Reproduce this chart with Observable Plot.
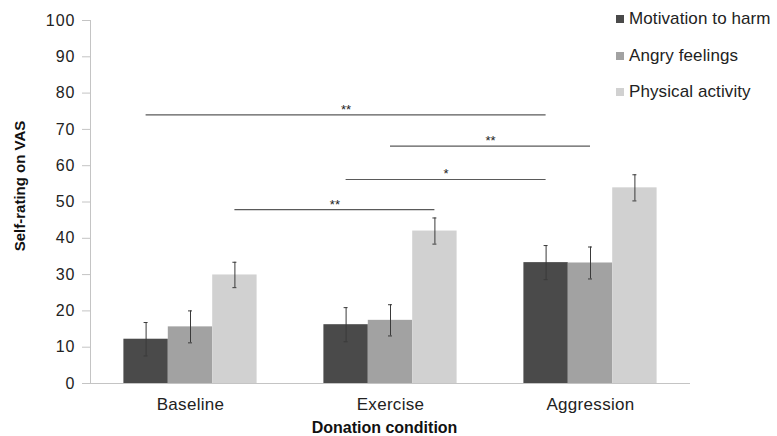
<!DOCTYPE html>
<html><head><meta charset="utf-8">
<script src="https://cdn.jsdelivr.net/npm/d3@7"></script>
<script src="https://cdn.jsdelivr.net/npm/@observablehq/plot@0.6"></script>
<style>
body{margin:0;background:#fff;}
#wrap{position:relative;width:777px;height:436px;font-family:"Liberation Sans",Arial,sans-serif;}
.item{position:absolute;left:616px;white-space:nowrap;display:flex;align-items:center;font-size:17px;letter-spacing:0.1px;color:#222;height:20px;line-height:20px;}
.sw{width:8px;height:8px;margin-right:5px;flex:none;}
svg g[aria-label="y-axis tick"] path{stroke:#c4c4c4;}
svg g[aria-label="y-axis tick label"]{letter-spacing:1px;}
svg g[aria-label="x-axis tick label"]{letter-spacing:0.3px;}
</style></head>
<body><div id="wrap"></div>
<script>
const conditions = ["Baseline", "Exercise", "Aggression"];
const series = ["Motivation to harm", "Angry feelings", "Physical activity"];
const colors = ["#4a4a4a", "#a2a2a2", "#d1d1d1"];
const motivation = [12.2, 16.2, 33.3];
const angry = [15.6, 17.4, 33.2];
const physical = [29.9, 42.0, 53.9];
const motivationErr = [4.6, 4.7, 4.7];
const angryErr = [4.4, 4.3, 4.4];
const physicalErr = [3.5, 3.6, 3.6];
const yTicks = [0, 10, 20, 30, 40, 50, 60, 70, 80, 90, 100];

// significance brackets: from (condition, series) to (condition, series)
const sigFromCond = ["Baseline", "Exercise", "Exercise", "Baseline"];
const sigFromSeries = ["Motivation to harm", "Angry feelings", "Motivation to harm", "Physical activity"];
const sigToCond = ["Aggression", "Aggression", "Aggression", "Exercise"];
const sigToSeries = ["Motivation to harm", "Angry feelings", "Motivation to harm", "Physical activity"];
const sigLevel = [74.0, 65.4, 56.2, 47.9];
const sigLabel = ["**", "**", "*", "**"];

const barW = 0.222;
const values = [motivation, angry, physical];
const errs = [motivationErr, angryErr, physicalErr];
const pos = (c, s) => conditions.indexOf(c) + (series.indexOf(s) - 1) * barW;

const rows = [];
conditions.forEach((c, i) => series.forEach((s, j) => {
  rows.push({cond: c, series: s, value: values[j][i], err: errs[j][i], xc: pos(c, s)});
}));
const sig = sigLevel.map((y, k) => {
  const a = pos(sigFromCond[k], sigFromSeries[k]);
  const b = pos(sigToCond[k], sigToSeries[k]);
  return {x1: a, x2: b, xm: (a + b) / 2, y, label: sigLabel[k]};
});

const plot = Plot.plot({
  width: 777, height: 436,
  marginLeft: 90, marginRight: 87, marginTop: 20, marginBottom: 53,
  style: {fontFamily: '"Liberation Sans", Arial, sans-serif', color: "#222", background: "#fff"},
  x: {domain: [-0.5, 2.5]},
  y: {domain: [0, 100]},
  color: {domain: series, range: colors},
  marks: [
    Plot.rectY(rows, {x1: d => d.xc - barW / 2, x2: d => d.xc + barW / 2, y: "value", fill: "series"}),
    Plot.ruleX(rows, {x: "xc", y1: d => d.value - d.err, y2: d => d.value + d.err, stroke: "#3a3a3a", strokeWidth: 1}),
    Plot.ruleY(rows, {x1: d => d.xc - 0.01, x2: d => d.xc + 0.01, y: d => d.value - d.err, stroke: "#3a3a3a", strokeWidth: 1}),
    Plot.ruleY(rows, {x1: d => d.xc - 0.01, x2: d => d.xc + 0.01, y: d => d.value + d.err, stroke: "#3a3a3a", strokeWidth: 1}),
    Plot.ruleY(sig, {x1: "x1", x2: "x2", y: "y", stroke: "#5a5a5a", strokeWidth: 1.1}),
    Plot.text(sig, {x: "xm", y: "y", text: "label", fontSize: 13, fill: "#222", lineAnchor: "bottom", dy: -1}),
    Plot.ruleY([0], {stroke: "#c4c4c4"}),
    Plot.ruleX([-0.5], {y1: 0, y2: 100, stroke: "#c4c4c4"}),
    Plot.axisY({ticks: yTicks, tickSize: 8, tickPadding: 7, fontSize: 16, label: null}),
    Plot.axisX({ticks: [0, 1, 2], tickFormat: i => conditions[i], tickSize: 0, tickPadding: 14, fontSize: 17, label: null}),
    Plot.text(["Donation condition"], {frameAnchor: "bottom", textAnchor: "middle", lineAnchor: "bottom", dx: -6, dy: 49, fontSize: 16, fontWeight: "bold", fill: "#111"}),
    Plot.text(["Self-rating on VAS"], {frameAnchor: "left", textAnchor: "middle", rotate: -90, dx: -70, dy: -16, fontSize: 15, fontWeight: "bold", fill: "#111"})
  ]
});

const wrap = document.getElementById("wrap");
wrap.appendChild(plot);
const centers = [19, 55.5, 92];
series.forEach((s, j) => {
  const it = document.createElement("div");
  it.className = "item";
  it.style.top = (centers[j] - 10) + "px";
  it.innerHTML = `<span class="sw" style="background:${colors[j]}"></span><span>${s}</span>`;
  wrap.appendChild(it);
});
</script>
</body></html>
